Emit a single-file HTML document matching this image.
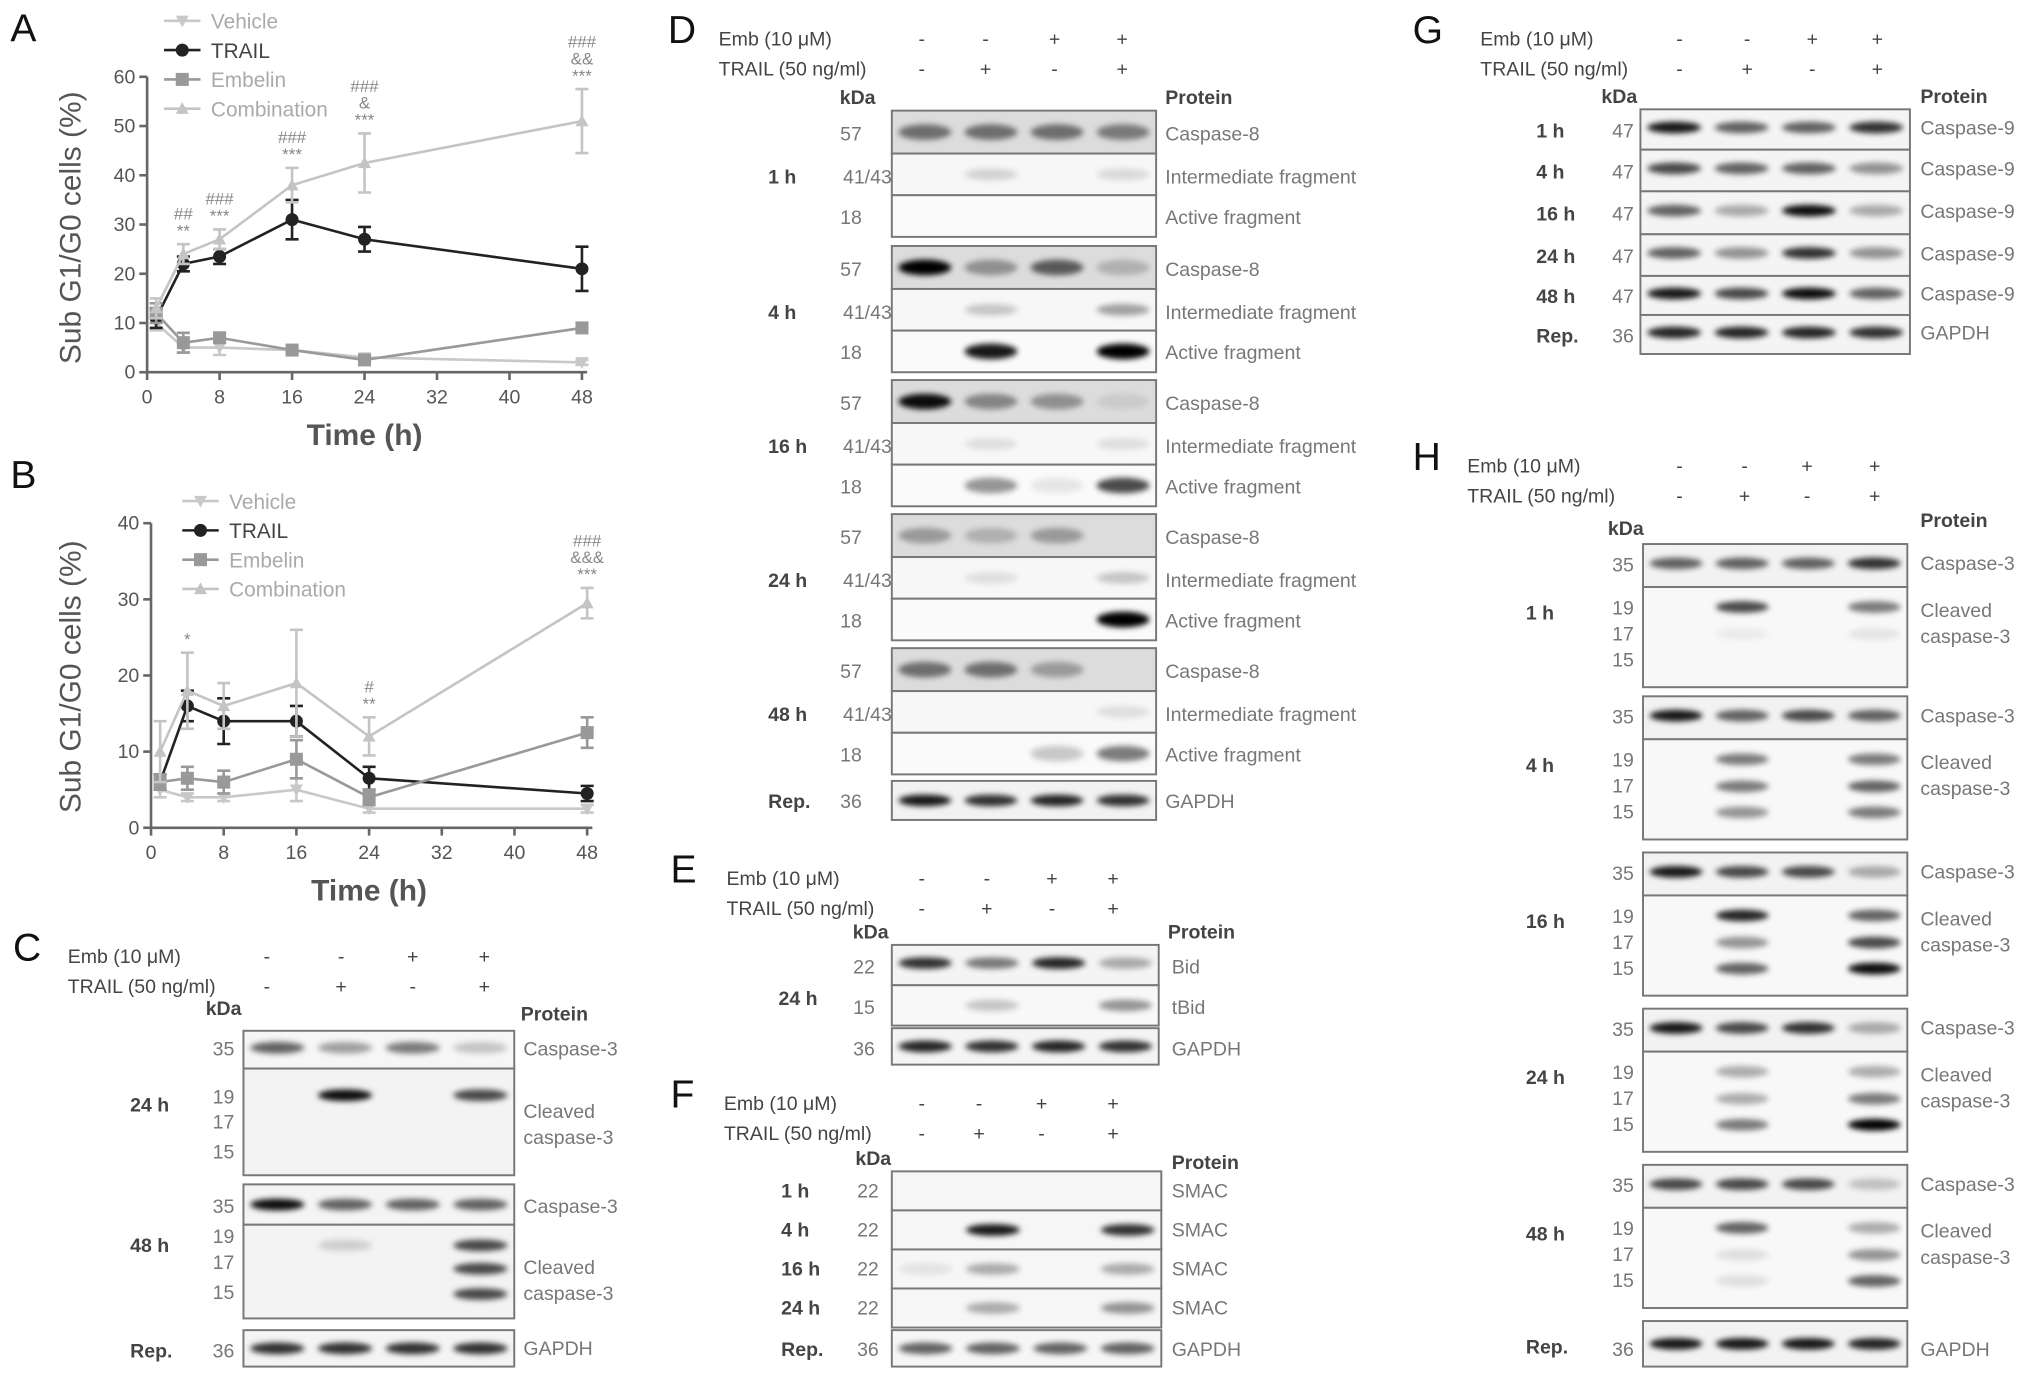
<!DOCTYPE html>
<html><head><meta charset="utf-8"><style>
html,body{margin:0;padding:0;background:#fff;width:2031px;height:1377px;overflow:hidden}
svg{display:block}
text{font-family:"Liberation Sans",sans-serif}
</style></head><body>
<svg id="fig" width="2031" height="1377" viewBox="0 0 1560 1058" preserveAspectRatio="none" xmlns="http://www.w3.org/2000/svg">
<defs><filter id="bl" x="-30%" y="-100%" width="160%" height="300%"><feGaussianBlur stdDeviation="2.2"/></filter></defs>
<g id="root"></g>
</svg>
<script>
// ---- Chart data ----
const timesX = [1,4,8,16,24,48];
const xTicks = [0,8,16,24,32,40,48];
const yTicksA = [0,10,20,30,40,50,60];
const yTicksB = [0,10,20,30,40];
const seriesNames = ['Vehicle','TRAIL','Embelin','Combination'];
const A_vehicle = [10,5,5,4.5,3,2];
const A_trail = [11,22,23.5,31,27,21];
const A_embelin = [12,6,7,4.5,2.5,9];
const A_comb = [13,24,27,38,42.5,51];
const A_vehicleErr = [1.5,1,1.5,0.5,0.5,0.5];
const A_trailErr = [2,1.5,1.5,4,2.5,4.5];
const A_embelinErr = [2,2,1,0.5,0.5,1];
const A_combErr = [2,2,2,3.5,6,6.5];
const B_vehicle = [5,4,4,5,2.5,2.5];
const B_trail = [6,16,14,14,6.5,4.5];
const B_embelin = [6,6.5,6,9,4,12.5];
const B_comb = [10,18,16,19,12,29.5];
const B_vehicleErr = [1,0.5,0.5,1.5,0.5,0.5];
const B_trailErr = [1,2,3,2,1.5,1];
const B_embelinErr = [1,1.5,1.5,2.5,1,2];
const B_combErr = [4,5,3,7,2.5,2];
const A_annot = [[],['##','**'],['###','***'],['###','***'],['###','&','***'],['###','&&','***']];
const B_annot = [[],['*'],[],[],['#','**'],['###','&&&','***']];

const NS='http://www.w3.org/2000/svg';
const root=document.getElementById('root');
function el(tag,attrs,parent,txt){const e=document.createElementNS(NS,tag);for(const k in attrs)e.setAttribute(k,attrs[k]);if(txt!==undefined)e.textContent=txt;(parent||root).appendChild(e);return e;}
function T(x,y,s,opt,parent){opt=opt||{};const t=el('text',{x:x,y:y,'font-size':opt.fs||15,fill:opt.fill||'#555','font-weight':opt.bold?'bold':'normal','text-anchor':opt.anchor||'start'},parent,s);if(opt.tr)t.setAttribute('transform',opt.tr);return t;}

const colors=['#c8c8c8','#222','#999','#c4c4c4'];
function marker(g,type,x,y,c){
  let m;
  if(type==0)m=el('path',{d:`M${x-5},${y-4}L${x+5},${y-4}L${x},${y+5}Z`,fill:c},g);
  else if(type==1)m=el('circle',{cx:x,cy:y,r:5,fill:c},g);
  else if(type==2)m=el('rect',{x:x-5,y:y-5,width:10,height:10,fill:c},g);
  else m=el('path',{d:`M${x-5},${y+4}L${x+5},${y+4}L${x},${y-5}Z`,fill:c},g);
  return m;
}
function chart(cfg){
  const g=el('g',{});
  
  
  const xs=v=>cfg.x0+(cfg.x1-cfg.x0)*v/48;
  const ys=v=>cfg.y0-(cfg.y0-cfg.y1)*v/cfg.ymax;
  el('line',{x1:cfg.x0,y1:cfg.y0,x2:cfg.x0,y2:cfg.y1,stroke:'#666','stroke-width':2},g);
  el('line',{x1:cfg.x0,y1:cfg.y0,x2:cfg.x1+4,y2:cfg.y0,stroke:'#666','stroke-width':2},g);
  cfg.yt.forEach(v=>{el('line',{x1:cfg.x0-6,x2:cfg.x0,y1:ys(v),y2:ys(v),stroke:'#666','stroke-width':2},g);T(cfg.x0-9,ys(v)+5,String(v),{fs:15,anchor:'end',name:'y-tick-label'},g);});
  xTicks.forEach(v=>{el('line',{x1:xs(v),x2:xs(v),y1:cfg.y0,y2:cfg.y0+6,stroke:'#666','stroke-width':2},g);T(xs(v),cfg.y0+24,String(v),{fs:15,anchor:'middle',name:'x-tick-label'},g);});
  T(cfg.ylx,cfg.ylc,'Sub G1/G0 cells (%)',{fs:23,anchor:'middle',tr:`rotate(-90 ${cfg.ylx} ${cfg.ylc})`,name:'y-axis-title'},g);
  T((cfg.x0+cfg.x1)/2,cfg.y0+56,'Time (h)',{fs:23,bold:true,anchor:'middle',name:'x-axis-title'},g);
  cfg.data.forEach((d,si)=>{
    const c=colors[si];
    const sg=el('g',{},g);
    
    
    el('polyline',{points:d.map((v,i)=>xs(timesX[i])+','+ys(v)).join(' '),fill:'none',stroke:c,'stroke-width':2},sg);
    d.forEach((v,i)=>{
      const e=cfg.err[si][i],x=xs(timesX[i]);
      el('path',{d:`M${x},${ys(v-e)}V${ys(v+e)}M${x-5},${ys(v-e)}H${x+5}M${x-5},${ys(v+e)}H${x+5}`,stroke:c,'stroke-width':2,fill:'none'},sg);
      const m=marker(sg,si,x,ys(v),c);
      
      
    });
  });
  cfg.annot.forEach((a,i)=>{
    const top=cfg.data[3][i]+cfg.err[3][i];
    const x=xs(timesX[i]);
    a.slice().reverse().forEach((s,k)=>T(x,ys(top)-6-k*13,s,{fs:13,fill:'#888',anchor:'middle',name:'significance-mark'},g));
  });
  seriesNames.forEach((n,si)=>{
    const y=cfg.ly+si*22.5;
    el('line',{x1:cfg.lx,x2:cfg.lx+28,y1:y,y2:y,stroke:colors[si],'stroke-width':2},g);
    marker(g,si,cfg.lx+14,y,colors[si]);
    T(cfg.lx+36,y+6,n,{fs:16,fill:si==1?'#444':'#aaa',name:'legend-entry'},g);
  });
}
T(8,32,'A',{fs:30,fill:'#111',name:'panel-label'});
chart({name:'chart-a',x0:113,x1:447,y0:286,y1:59,ymax:60,yt:yTicksA,ylx:62,ylc:175,lx:126,ly:16,
 data:[A_vehicle,A_trail,A_embelin,A_comb],err:[A_vehicleErr,A_trailErr,A_embelinErr,A_combErr],annot:A_annot});
T(8,375,'B',{fs:30,fill:'#111',name:'panel-label'});
chart({name:'chart-b',x0:116,x1:451,y0:636,y1:402,ymax:40,yt:yTicksB,ylx:62,ylc:520,lx:140,ly:385,
 data:[B_vehicle,B_trail,B_embelin,B_comb],err:[B_vehicleErr,B_trailErr,B_embelinErr,B_combErr],annot:B_annot});

// ---- Blots ----
function header(p){
  T(p.lx,p.hy,p.letter,{fs:30,fill:'#111',name:'panel-label'});
  T(p.tx,p.hy+2,'Emb (10 μM)',{fs:15,fill:'#444',name:'emb-label'});
  T(p.tx,p.hy+25,'TRAIL (50 ng/ml)',{fs:15,fill:'#444',name:'trail-label'});
  const emb=['-','-','+','+'],tr=['-','+','-','+'];
  p.signs.forEach((x,i)=>{T(x,p.hy+2,emb[i],{fs:15,fill:'#444',anchor:'middle',name:'sign'});T(x,p.hy+25,tr[i],{fs:15,fill:'#444',anchor:'middle',name:'sign'});});
  T(p.kx,p.ky,'kDa',{fs:15,fill:'#444',bold:true,name:'kda-header'});
  T(p.px,p.py,'Protein',{fs:15,fill:'#444',bold:true,name:'protein-header'});
}
function box(x0,x1,y0,y1,bg,bands,name){
  const g=el('g',{});
  
  
  el('rect',{x:x0,y:y0,width:x1-x0,height:y1-y0,fill:bg,stroke:'#777','stroke-width':1.5},g);
  const w=(x1-x0)/4;
  bands.forEach(b=>{b.v.forEach((v,i)=>{if(v<=0)return;
    el('ellipse',{cx:x0+w*(i+0.5),cy:y0+(y1-y0)*b.f,rx:w*0.4,ry:b.h||4.5,fill:'#000','fill-opacity':Math.min(1,v),filter:'url(#bl)'},g);});});
}
function rowLbl(x,y,s,o){T(x,y,s,Object.assign({fs:15,fill:'#777'},o||{}));}

// C
header({letter:'C',lx:10,hy:738,tx:52,signs:[205,262,317,372],kx:158,ky:780,px:400,py:784});
box(187,395,792,821,'#f6f6f6',[{f:0.45,v:[0.6,0.35,0.5,0.2]}],'blot-c-caspase3-24h');
box(187,395,821,903,'#f3f3f3',[{f:0.25,v:[0,0.95,0,0.7]}],'blot-c-cleaved-24h');
box(187,395,910,941,'#f4f4f4',[{f:0.5,v:[0.95,0.6,0.6,0.6]}],'blot-c-caspase3-48h');
box(187,395,941,1013,'#f3f3f3',[{f:0.22,v:[0,0.15,0,0.7]},{f:0.47,v:[0,0,0,0.7]},{f:0.74,v:[0,0,0,0.7]}],'blot-c-cleaved-48h');
box(187,395,1022,1050,'#f4f4f4',[{f:0.5,v:[0.8,0.8,0.8,0.8]}],'blot-c-gapdh');
[[180,811,'35'],[180,848,'19'],[180,867,'17'],[180,890,'15'],[180,932,'35'],[180,955,'19'],[180,975,'17'],[180,998,'15'],[180,1043,'36']].forEach(a=>rowLbl(a[0],a[1],a[2],{anchor:'end',name:'kda-value'}));
rowLbl(100,854,'24 h',{bold:true,fill:'#444',name:'time-label'});rowLbl(100,962,'48 h',{bold:true,fill:'#444',name:'time-label'});rowLbl(100,1043,'Rep.',{bold:true,fill:'#444',name:'time-label'});
rowLbl(402,811,'Caspase-3');rowLbl(402,859,'Cleaved');rowLbl(402,879,'caspase-3');rowLbl(402,932,'Caspase-3');rowLbl(402,979,'Cleaved');rowLbl(402,999,'caspase-3');rowLbl(402,1041,'GAPDH');

// D
header({letter:'D',lx:513,hy:33,tx:552,signs:[708,757,810,862],kx:645,ky:80,px:895,py:80});
const Dgroups=[['1 h',85,[0.5,0.5,0.5,0.45],[0,0.15,0,0.12],[0,0,0,0]],['4 h',189,[1,0.35,0.6,0.2],[0,0.2,0,0.35],[0,0.9,0,1]],['16 h',292,[0.95,0.4,0.35,0.08],[0,0.1,0,0.1],[0,0.4,0.08,0.7]],['24 h',395,[0.3,0.2,0.3,0],[0,0.1,0,0.2],[0,0,0,1]],['48 h',498,[0.5,0.5,0.3,0],[0,0,0,0.1],[0,0,0.2,0.5]]];
Dgroups.forEach(g=>{const y=g[1];
  box(685,888,y,y+33,'#dcdcdc',[{f:0.5,v:g[2],h:6}],'blot-d-caspase8-'+g[0].replace(' ',''));
  box(685,888,y+33,y+65,'#f7f7f7',[{f:0.5,v:g[3]}],'blot-d-intermediate-'+g[0].replace(' ',''));
  box(685,888,y+65,y+97,'#fafafa',[{f:0.5,v:g[4],h:6}],'blot-d-active-'+g[0].replace(' ',''));
  rowLbl(662,y+23,'57',{anchor:'end',name:'kda-value'});rowLbl(685,y+56,'41/43',{anchor:'end',name:'kda-value'});rowLbl(662,y+87,'18',{anchor:'end',name:'kda-value'});
  rowLbl(590,y+56,g[0],{bold:true,fill:'#444',name:'time-label'});
  rowLbl(895,y+23,'Caspase-8');rowLbl(895,y+56,'Intermediate fragment');rowLbl(895,y+87,'Active fragment');
});
box(685,888,600,630,'#f2f2f2',[{f:0.5,v:[0.9,0.8,0.85,0.8]}],'blot-d-gapdh');
rowLbl(662,621,'36',{anchor:'end',name:'kda-value'});rowLbl(590,621,'Rep.',{bold:true,fill:'#444',name:'time-label'});rowLbl(895,621,'GAPDH');

// E
header({letter:'E',lx:515,hy:678,tx:558,signs:[708,758,808,855],kx:655,ky:721,px:897,py:721});
box(685,890,726,757,'#f4f4f4',[{f:0.45,v:[0.8,0.5,0.85,0.3]}],'blot-e-bid');
box(685,890,757,788,'#f8f8f8',[{f:0.5,v:[0,0.2,0,0.4]}],'blot-e-tbid');
box(685,890,790,818,'#f4f4f4',[{f:0.5,v:[0.85,0.8,0.85,0.8]}],'blot-e-gapdh');
rowLbl(672,748,'22',{anchor:'end',name:'kda-value'});rowLbl(672,779,'15',{anchor:'end',name:'kda-value'});rowLbl(672,811,'36',{anchor:'end',name:'kda-value'});
rowLbl(598,772,'24 h',{bold:true,fill:'#444',name:'time-label'});
rowLbl(900,748,'Bid');rowLbl(900,779,'tBid');rowLbl(900,811,'GAPDH');

// F
header({letter:'F',lx:515,hy:851,tx:556,signs:[708,752,800,855],kx:657,ky:895,px:900,py:898});
const Frows=[['1 h',900,[0,0,0,0]],['4 h',930,[0,0.9,0,0.8]],['16 h',960,[0.08,0.3,0,0.3]],['24 h',990,[0,0.3,0,0.4]]];
Frows.forEach(r=>{box(685,892,r[1],r[1]+30,'#f6f6f6',[{f:0.5,v:r[2]}],'blot-f-smac-'+r[0].replace(' ',''));
  rowLbl(675,r[1]+20,'22',{anchor:'end',name:'kda-value'});rowLbl(600,r[1]+20,r[0],{bold:true,fill:'#444',name:'time-label'});rowLbl(900,r[1]+20,'SMAC');});
box(685,892,1022,1050,'#f6f6f6',[{f:0.5,v:[0.6,0.6,0.6,0.6]}],'blot-f-gapdh');
rowLbl(675,1042,'36',{anchor:'end',name:'kda-value'});rowLbl(600,1042,'Rep.',{bold:true,fill:'#444',name:'time-label'});rowLbl(900,1042,'GAPDH');

// G
header({letter:'G',lx:1085,hy:33,tx:1137,signs:[1290,1342,1392,1442],kx:1230,ky:79,px:1475,py:79});
const Grows=[['1 h',84,115,[0.9,0.6,0.6,0.8]],['4 h',115,147,[0.7,0.6,0.6,0.4]],['16 h',147,180,[0.6,0.3,0.95,0.3]],['24 h',180,212,[0.6,0.4,0.8,0.4]],['48 h',212,242,[0.9,0.7,0.95,0.6]],['Rep.',242,272,[0.85,0.85,0.85,0.8]]];
Grows.forEach((r,i)=>{const last=i==5;box(1260,1467,r[1],r[2],'#f4f4f4',[{f:0.45,v:r[3]}],last?'blot-g-gapdh':'blot-g-caspase9-'+r[0].replace(' ',''));
  const ym=(r[1]+r[2])/2+6;rowLbl(1180,ym,r[0],{bold:true,fill:'#444',name:'time-label'});rowLbl(1255,ym,last?'36':'47',{anchor:'end',name:'kda-value'});rowLbl(1475,ym-2,last?'GAPDH':'Caspase-9');});

// H
header({letter:'H',lx:1085,hy:361,tx:1127,signs:[1290,1340,1388,1440],kx:1235,ky:411,px:1475,py:405});
const Hgroups=[['1 h',418,[0.6,0.6,0.6,0.8],[0,0.7,0,0.5],[0,0.05,0,0.08],[0,0,0,0]],
 ['4 h',535,[0.9,0.6,0.7,0.6],[0,0.5,0,0.5],[0,0.5,0,0.6],[0,0.4,0,0.5]],
 ['16 h',655,[0.9,0.7,0.7,0.3],[0,0.85,0,0.6],[0,0.4,0,0.7],[0,0.6,0,0.95]],
 ['24 h',775,[0.9,0.7,0.8,0.3],[0,0.3,0,0.3],[0,0.3,0,0.5],[0,0.5,0,1]],
 ['48 h',895,[0.7,0.7,0.7,0.2],[0,0.6,0,0.3],[0,0.1,0,0.4],[0,0.1,0,0.6]]];
Hgroups.forEach(g=>{const y=g[1],n=g[0].replace(' ','');
  box(1262,1465,y,y+33,'#f2f2f2',[{f:0.45,v:g[2]}],'blot-h-caspase3-'+n);
  box(1262,1465,y+33,y+110,'#f8f8f8',[{f:0.2,v:g[3]},{f:0.47,v:g[4]},{f:0.73,v:g[5]}],'blot-h-cleaved-'+n);
  rowLbl(1255,y+21,'35',{anchor:'end',name:'kda-value'});
  rowLbl(1255,y+54,'19',{anchor:'end',name:'kda-value'});rowLbl(1255,y+74,'17',{anchor:'end',name:'kda-value'});rowLbl(1255,y+94,'15',{anchor:'end',name:'kda-value'});
  rowLbl(1172,y+58,g[0],{bold:true,fill:'#444',name:'time-label'});
  rowLbl(1475,y+20,'Caspase-3');rowLbl(1475,y+56,'Cleaved');rowLbl(1475,y+76,'caspase-3');
});
box(1262,1465,1015,1050,'#f2f2f2',[{f:0.5,v:[0.9,0.9,0.9,0.85]}],'blot-h-gapdh');
rowLbl(1255,1042,'36',{anchor:'end',name:'kda-value'});rowLbl(1172,1040,'Rep.',{bold:true,fill:'#444',name:'time-label'});rowLbl(1475,1042,'GAPDH');
</script>
</body></html>
